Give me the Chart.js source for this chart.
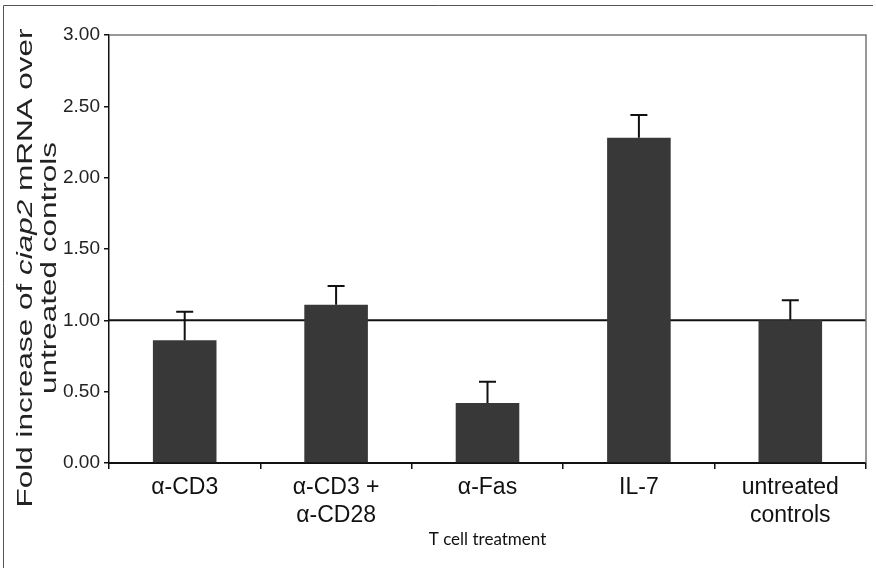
<!DOCTYPE html>
<html lang="en">
<head>
    <meta charset="utf-8">
    <title>Fold increase of ciap2 mRNA</title>
    <script src="https://cdn.jsdelivr.net/npm/chart.js"></script>
    <style>
        html, body { margin: 0; padding: 0; background: #fff; }
        #wrap { width: 876px; height: 568px; }
    </style>
</head>
<body>
    <div id="wrap">
        <canvas id="myBarChart"></canvas>
    </div>

    <script>
        // data
        const categories = [['α-CD3'], ['α-CD3 +', 'α-CD28'], ['α-Fas'], ['IL-7'], ['untreated', 'controls']];
        const foldValues = [0.86, 1.11, 0.42, 2.28, 1.00];
        const errorValues = [0.20, 0.13, 0.15, 0.16, 0.14];
        const yTickValues = [0, 0.5, 1, 1.5, 2, 2.5, 3];
        const referenceLevel = 1.0;
        const yTitleLine1 = [['Fold increase of ', false], ['ciap2', true], [' mRNA over', false]];
        const yTitleLine2 = [['untreated controls', false]];
        const xTitle = 'T cell treatment';

        // reference line, error bars, frames and the rotated y title
        const extrasPlugin = {
            id: 'extras',
            beforeDatasetsDraw(chart) {
                const { ctx, chartArea, scales } = chart;
                const y = scales.y.getPixelForValue(referenceLevel);
                ctx.save();
                ctx.strokeStyle = '#111';
                ctx.lineWidth = 2;
                ctx.beginPath();
                ctx.moveTo(chartArea.left, y);
                ctx.lineTo(chartArea.right, y);
                ctx.stroke();
                ctx.restore();
            },
            afterDatasetsDraw(chart) {
                const { ctx, scales } = chart;
                const meta = chart.getDatasetMeta(0);
                ctx.save();
                ctx.strokeStyle = '#111';
                ctx.lineWidth = 2;
                meta.data.forEach((bar, i) => {
                    const yTop = scales.y.getPixelForValue(foldValues[i] + errorValues[i]);
                    const yBar = scales.y.getPixelForValue(foldValues[i]);
                    ctx.beginPath();
                    ctx.moveTo(bar.x, yBar);
                    ctx.lineTo(bar.x, yTop);
                    ctx.moveTo(bar.x - 8.5, yTop);
                    ctx.lineTo(bar.x + 8.5, yTop);
                    ctx.stroke();
                });
                ctx.restore();
            },
            afterDraw(chart) {
                const { ctx, chartArea } = chart;
                ctx.save();
                // plot box top + right
                ctx.strokeStyle = '#777';
                ctx.lineWidth = 1.5;
                ctx.beginPath();
                ctx.moveTo(chartArea.left, chartArea.top);
                ctx.lineTo(chartArea.right, chartArea.top);
                ctx.lineTo(chartArea.right, chartArea.bottom);
                ctx.stroke();
                // outer figure frame (left + top only)
                ctx.strokeStyle = '#555';
                ctx.lineWidth = 1;
                ctx.beginPath();
                ctx.moveTo(3.5, 568);
                ctx.lineTo(3.5, 5.5);
                ctx.lineTo(873, 5.5);
                ctx.stroke();

                // y axis title, two lines, stretched along the text like the scan
                const size = 22;
                const stretch = 1.43;
                const centerY = 268;
                const drawLine = (parts, baselineX) => {
                    ctx.save();
                    ctx.translate(0, centerY);
                    ctx.rotate(-Math.PI / 2);
                    ctx.scale(stretch, 1);
                    ctx.fillStyle = '#222';
                    ctx.textAlign = 'left';
                    ctx.textBaseline = 'alphabetic';
                    let total = 0;
                    parts.forEach(p => {
                        ctx.font = (p[1] ? 'italic ' : '') + size + 'px "Liberation Sans", Arial, sans-serif';
                        total += ctx.measureText(p[0]).width;
                    });
                    let x = -total / 2;
                    parts.forEach(p => {
                        ctx.font = (p[1] ? 'italic ' : '') + size + 'px "Liberation Sans", Arial, sans-serif';
                        ctx.fillText(p[0], x, baselineX);
                        x += ctx.measureText(p[0]).width;
                    });
                    ctx.restore();
                };
                drawLine(yTitleLine1, 32);
                drawLine(yTitleLine2, 56);
                ctx.restore();
            }
        };

        const ctx = document.getElementById('myBarChart').getContext('2d');
        const myBarChart = new Chart(ctx, {
            type: 'bar',
            data: {
                labels: categories,
                datasets: [{
                    label: 'Fold increase',
                    data: foldValues,
                    backgroundColor: '#383838',
                    borderWidth: 0,
                    barPercentage: 0.42,
                    categoryPercentage: 1.0
                }]
            },
            options: {
                responsive: true,
                maintainAspectRatio: false,
                animation: false,
                layout: {
                    padding: { left: 0, top: 35, right: 10, bottom: 0 }
                },
                scales: {
                    x: {
                        offset: true,
                        grid: {
                            offset: true,
                            drawOnChartArea: false,
                            drawTicks: true,
                            tickLength: 6,
                            color: '#111',
                            lineWidth: 1.5
                        },
                        border: { color: '#111', width: 2 },
                        ticks: {
                            color: '#111',
                            padding: 5,
                            maxRotation: 0,
                            autoSkip: false,
                            font: { family: '"Liberation Sans", Arial, sans-serif', size: 23, lineHeight: 1.22 }
                        },
                        title: {
                            display: true,
                            text: xTitle,
                            color: '#111',
                            font: { family: 'Lato, "Open Sans", sans-serif', size: 17 },
                            padding: { top: 0, bottom: 18 }
                        },
                        afterFit(scale) { scale.height = 105; }
                    },
                    y: {
                        min: 0,
                        max: 3,
                        afterBuildTicks(scale) {
                            scale.ticks = yTickValues.map(v => ({ value: v }));
                        },
                        grid: {
                            drawOnChartArea: false,
                            drawTicks: true,
                            tickLength: 5,
                            color: '#111',
                            lineWidth: 1.5
                        },
                        border: { color: '#111', width: 1.5 },
                        ticks: {
                            color: '#222',
                            padding: 4,
                            font: { family: '"Liberation Sans", Arial, sans-serif', size: 19 },
                            callback: v => Number(v).toFixed(2)
                        },
                        afterFit(scale) { scale.width = 109; }
                    }
                },
                plugins: {
                    legend: { display: false },
                    tooltip: { enabled: false }
                }
            },
            plugins: [extrasPlugin]
        });
    </script>
</body>
</html>
